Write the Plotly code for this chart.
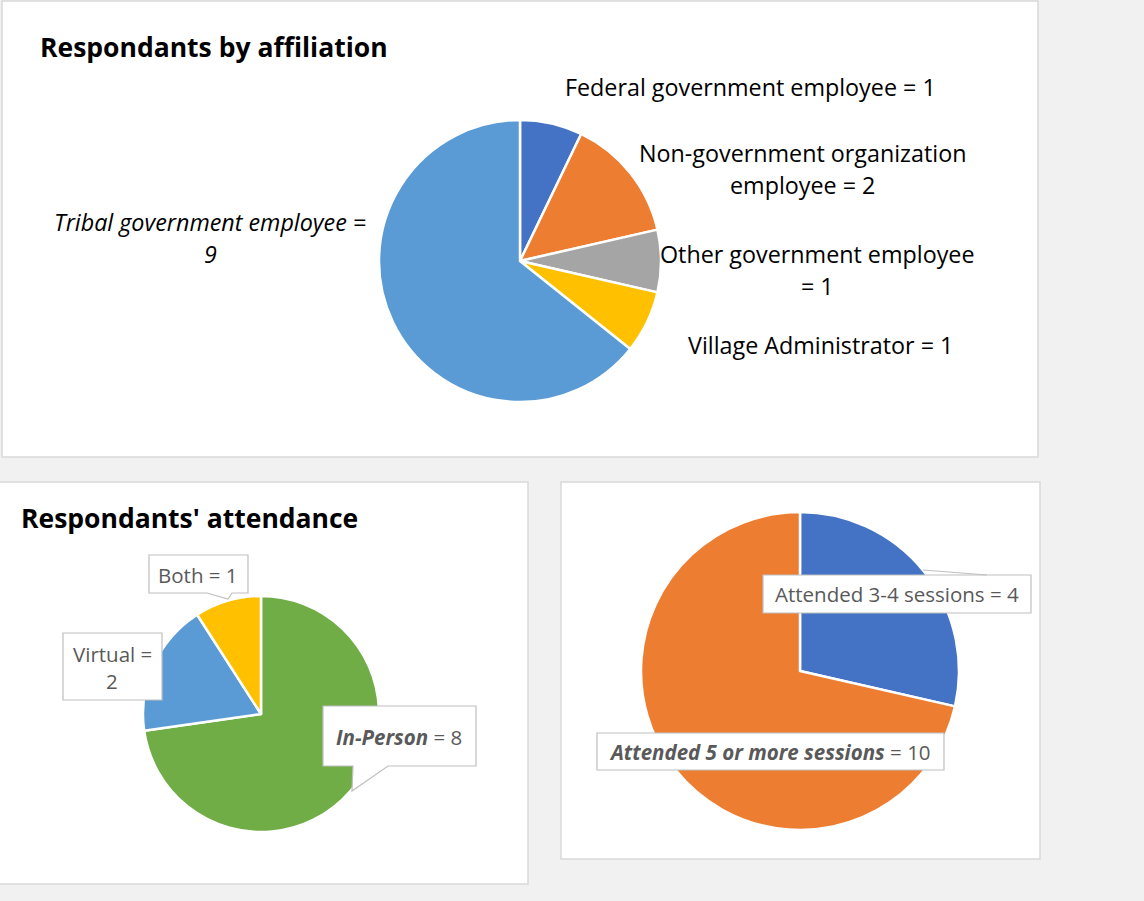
import plotly.graph_objects as go

W, H = 1144, 901

# data
aff_labels = ["Federal government employee", "Non-government organization employee",
              "Other government employee", "Village Administrator", "Tribal government employee"]
aff_values = [1, 2, 1, 1, 9]
aff_colors = ["#4472C4", "#ED7D31", "#A5A5A5", "#FFC000", "#5B9BD5"]

att_labels = ["In-Person", "Virtual", "Both"]
att_values = [8, 2, 1]
att_colors = ["#70AD47", "#5B9BD5", "#FFC000"]

ses_labels = ["Attended 3-4 sessions", "Attended 5 or more sessions"]
ses_values = [4, 10]
ses_colors = ["#4472C4", "#ED7D31"]

FONT = "Open Sans"


def px(x):
    return x / W


def py(y):
    return 1 - y / H


def dom(cx, cy, r):
    return dict(x=[px(cx - r), px(cx + r)], y=[py(cy + r), py(cy - r)])


def pie(labels, values, colors, d):
    return go.Pie(labels=labels, values=values, sort=False, direction="clockwise", rotation=0,
                  marker=dict(colors=colors, line=dict(color="white", width=2.5)),
                  textinfo="none", hoverinfo="label+value", domain=d, showlegend=False)


fig = go.Figure()
fig.add_trace(pie(aff_labels, aff_values, aff_colors, dom(520, 261, 141)))
fig.add_trace(pie(att_labels, att_values, att_colors, dom(261, 714, 118)))
fig.add_trace(pie(ses_labels, ses_values, ses_colors, dom(800, 671, 159)))

shapes = []
# panels
for x0, y0, x1, y1 in [(2, 1, 1038, 457), (-1, 482, 528, 884), (561, 482, 1040, 859)]:
    shapes.append(dict(type="rect", xref="paper", yref="paper", x0=px(x0), x1=px(x1), y0=py(y1), y1=py(y0),
                       fillcolor="white", line=dict(color="#d9d9d9", width=1.5), layer="below"))


def callout(pts):
    p = "M " + " L ".join(f"{px(a):.5f},{py(b):.5f}" for a, b in pts) + " Z"
    shapes.append(dict(type="path", xref="paper", yref="paper", path=p, fillcolor="white",
                       line=dict(color="#bfbfbf", width=1.2), layer="above"))


# callout boxes with wedges
callout([(149, 555), (248, 555), (248, 593), (232, 593), (228, 599), (207, 593), (149, 593)])
callout([(63, 633), (162, 633), (162, 700), (63, 700)])
callout([(323, 706), (476, 706), (476, 766), (388, 766), (352, 791), (353, 766), (323, 766)])
callout([(763, 575), (1031, 575), (1031, 613), (763, 613)])
callout([(597, 733), (944, 733), (944, 770), (597, 770)])
shapes.append(dict(type="line", xref="paper", yref="paper", x0=px(923), y0=py(570), x1=px(987), y1=py(575),
                   line=dict(color="#bfbfbf", width=1)))

ann = []


def label(x, y, text, size, color, anchor="center", gap=32):
    for i, line in enumerate(text.split("<br>")):
        ann.append(dict(x=px(x), y=py(y + i * gap), xref="paper", yref="paper", text=line, showarrow=False,
                        xanchor=anchor, yanchor="middle", align="center",
                        font=dict(family=FONT, size=size, color=color)))


# titles
label(38, 47, "<b>Respondants by affiliation</b>", 26.5, "black", "left")
label(19, 518, "<b>Respondants' attendance</b>", 26.5, "black", "left")

# affiliation labels
aff_txt = [f"{l} = {v}" for l, v in zip(aff_labels, aff_values)]
label(750, 87, aff_txt[0], 23.3, "black")
label(803, 153, aff_txt[1].replace("organization ", "organization<br>"), 23.3, "black")
label(817, 254, aff_txt[2].replace(" =", "<br>="), 23.3, "black")
label(820, 345, aff_txt[3], 23.3, "black")
label(210, 222, "<i>" + aff_txt[4].replace("= ", "=</i><br><i>") + "</i>", 23.3, "black")

# attendance labels
gray = "#595959"
label(198, 575, f"{att_labels[2]} = {att_values[2]}", 20.5, gray)
label(112, 654, f"{att_labels[1]} =<br>{att_values[1]}", 20.5, gray, gap=27)
label(399, 737, f"<b><i>{att_labels[0]}</i></b> = {att_values[0]}", 20.5, gray)

# sessions labels
label(897, 594, f"{ses_labels[0]} = {ses_values[0]}", 20.5, gray)
label(770, 752, f"<b><i>{ses_labels[1]}</i></b> = {ses_values[1]}", 20.5, gray)

fig.update_layout(width=W, height=H, margin=dict(l=0, r=0, t=0, b=0, autoexpand=False),
                  paper_bgcolor="#f1f1f1", plot_bgcolor="#f1f1f1",
                  shapes=shapes, annotations=ann, font=dict(family=FONT))

fig.write_html("out.html", config={"displayModeBar": False},
               post_script="document.body.style.margin='0';")
